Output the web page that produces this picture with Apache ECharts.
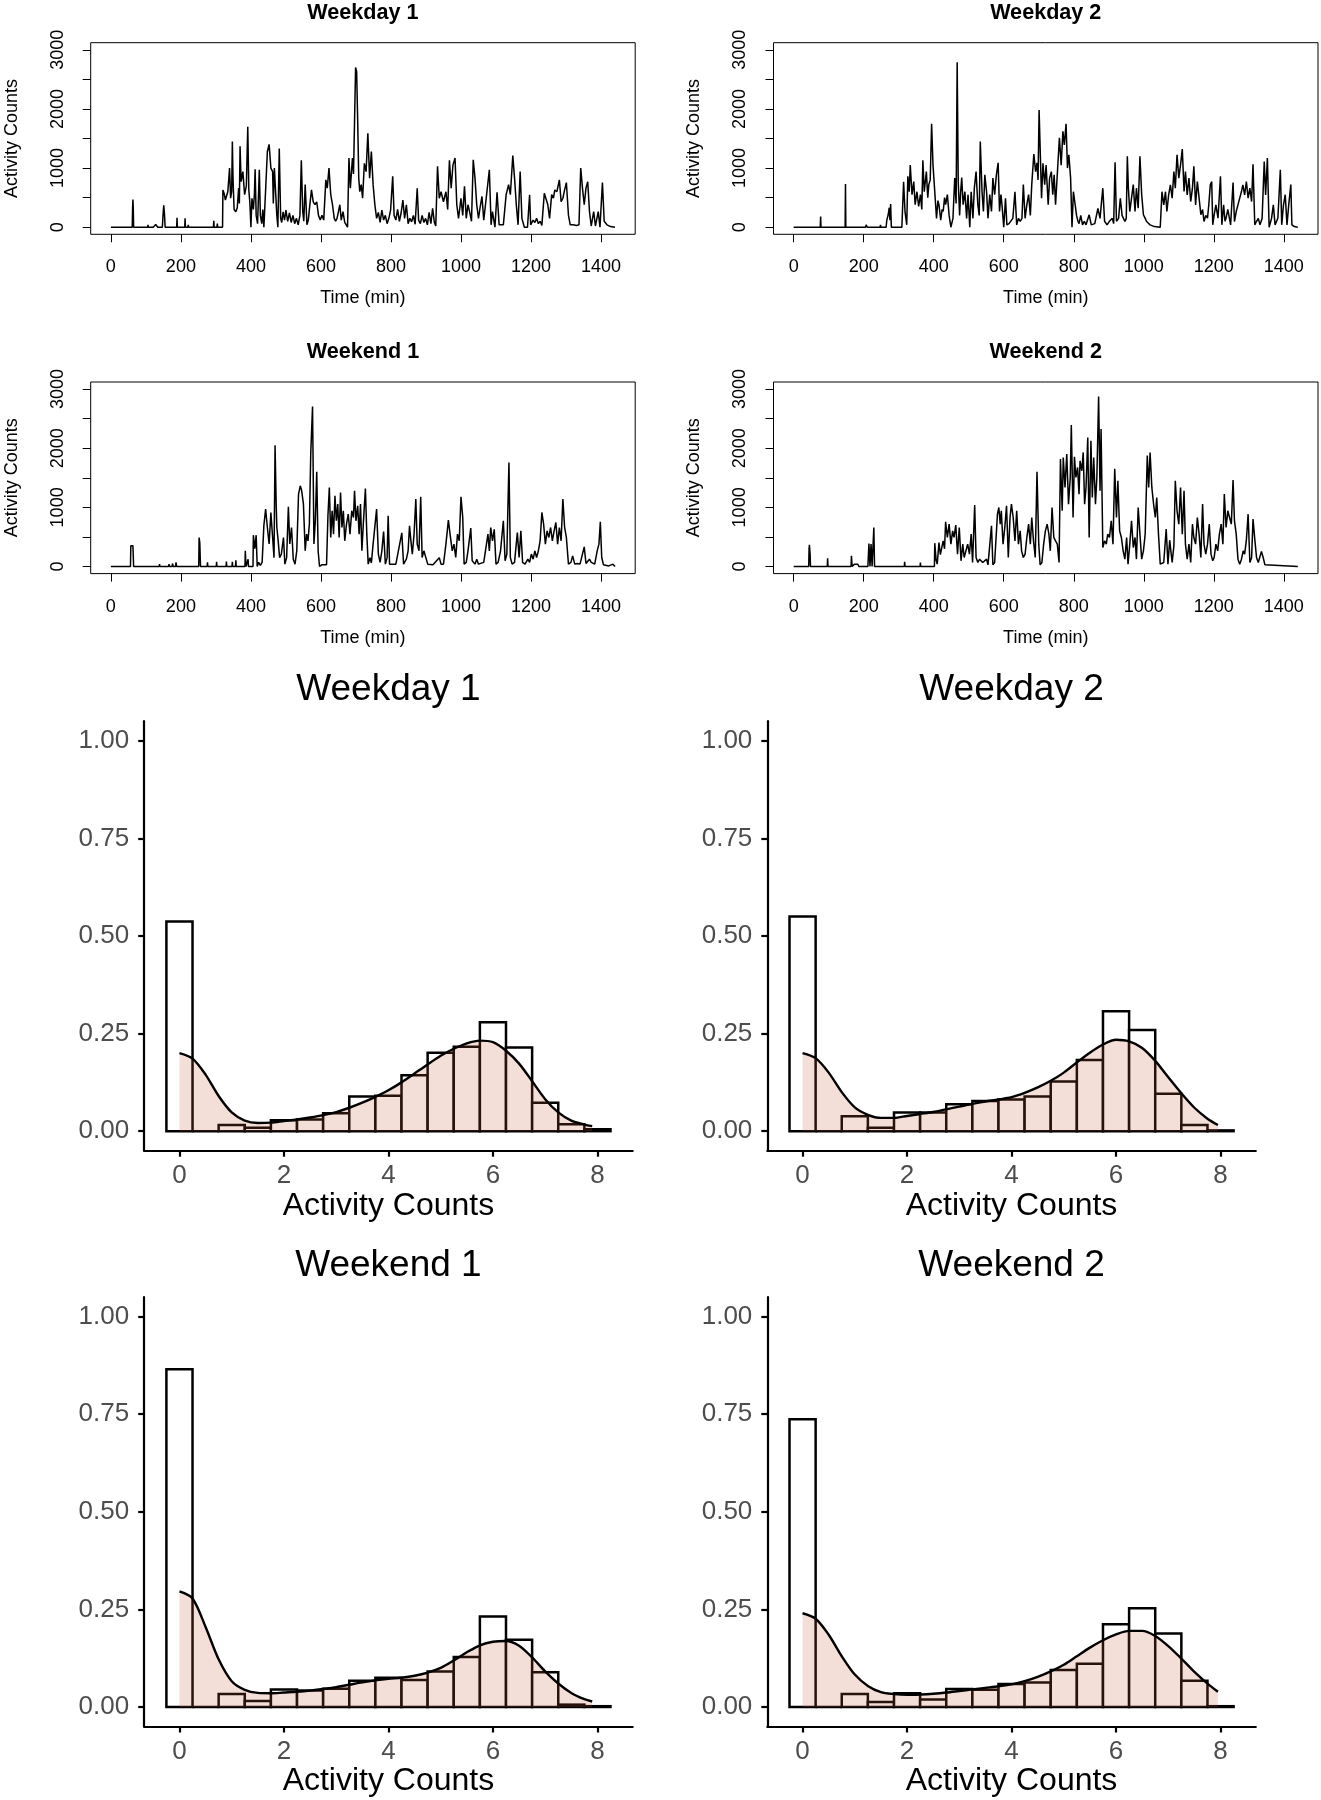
<!DOCTYPE html>
<html>
<head>
<meta charset="utf-8">
<script src="https://cdn.jsdelivr.net/npm/echarts@6/dist/echarts.min.js"></script>
<style>
  html, body { margin: 0; padding: 0; background: #fff; }
  #chart { width: 1321px; height: 1800px; }
</style>
</head>
<body>
<div id="chart"></div>
<script>
// ---- minute-level activity counts, [minute, count]
var weekday1 = [[0,0],[61,0],[62,300],[63,470],[64,320],[65,0],[105,0],[106,40],[107,0],[121,0],[124,30],[128,45],[132,20],[134,0],[147,0],[149,200],[151,370],[153,240],[155,0],[188,0],[189,160],[190,0],[211,0],[212,150],[213,0],[220,0],[221,40],[222,0],[235,0],[236,20],[237,0],[293,0],[294,110],[295,0],[303,0],[304,60],[305,0],[319,0],
  [320,630],[324,560],[327,460],[331,540],[334,600],[337,830],[339,1000],[342,490],[345,600],[347,1450],[349,800],[352,300],[357,260],[361,330],[365,660],[367,400],[369,1370],[372,770],[377,940],[382,550],[387,700],[391,1700],[394,630],[397,420],[400,0],[403,490],[407,300],[410,560],[412,980],[415,200],[419,60],[424,970],[427,200],[431,60],[434,300],[437,0],[442,630],[447,1280],[452,1400],[457,1000],[462,940],[464,400],[467,1000],[470,660],[474,200],[477,0],[481,1330],[485,150],[488,80],[492,260],[496,120],[500,290],[505,100],[510,240],[515,80],[520,200],[525,60],[530,150],[535,40],[540,200],[544,1130],[548,265],[551,100],[555,720],[560,40],[564,120],[568,360],[573,630],[578,430],[583,380],[588,430],[593,200],[598,120],[603,200],[608,120],[614,800],[618,660],[623,1000],[628,550],[633,380],[638,150],[642,100],[646,150],[650,265],[654,380],[658,120],[663,265],[668,80],[676,0],[680,1170],[684,660],[690,1170],[693,900],[696,1790],[699,2700],[702,2630],[705,1790],[708,830],[711,600],[715,720],[719,490],[724,1080],[729,940],[734,1590],[739,830],[744,1280],[749,720],[754,380],[759,150],[764,250],[769,80],[774,290],[779,120],[784,200],[789,60],[794,150],[799,290],[805,860],[809,200],[814,120],[819,300],[824,100],[829,240],[834,460],[839,150],[844,380],[849,60],[854,150],[859,90],[864,200],[869,50],[875,660],[879,120],[884,60],[889,200],[894,80],[899,150],[904,40],[909,250],[914,60],[919,320],[924,80],[928,20],
  [933,1030],[938,490],[943,600],[950,430],[957,600],[962,300],[967,1130],[972,660],[977,1050],[983,1170],[988,380],[993,150],[1000,490],[1005,200],[1010,690],[1015,150],[1020,380],[1025,250],[1030,100],[1035,1140],[1040,830],[1045,380],[1050,150],[1055,350],[1060,520],[1065,120],[1070,380],[1075,380],[1081,970],[1086,40],[1090,265],[1097,0],[1103,590],[1109,40],[1121,40],[1129,550],[1136,720],[1141,550],[1148,1210],[1153,830],[1158,380],[1163,40],[1169,940],[1174,150],[1181,0],[1190,0],[1196,550],[1199,40],[1206,120],[1211,80],[1216,150],[1221,60],[1226,100],[1231,30],[1238,575],[1243,600],[1248,380],[1253,150],[1259,550],[1264,490],[1268,630],[1274,600],[1281,800],[1286,430],[1291,490],[1296,630],[1301,755],[1307,200],[1312,40],[1320,40],[1330,30],[1337,40],[1342,1000],[1347,660],[1352,380],[1357,660],[1362,770],[1367,265],[1372,20],[1379,265],[1384,20],[1392,265],[1397,0],[1404,755],[1409,100],[1417,40],[1427,10],[1440,0]];

var weekday2 = [[0,0],[76,0],[77,180],[78,0],[86,0],[87,30],[88,0],[147,0],[148,730],[149,0],[172,0],[174,30],[176,0],[185,0],[186,30],[188,0],[205,0],[207,40],[210,0],[247,0],[248,40],[249,0],[264,0],[266,120],[270,210],[273,330],[275,120],[277,390],[279,0],[309,0],
  [314,770],[318,265],[323,40],[326,860],[330,600],[333,1050],[338,550],[343,770],[347,380],[352,600],[357,350],[362,550],[366,300],[369,1130],[373,600],[379,940],[383,500],[386,720],[390,800],[394,1750],[398,1050],[403,600],[408,150],[412,450],[415,380],[420,120],[424,300],[427,265],[431,500],[434,380],[439,550],[444,200],[449,0],[455,150],[460,830],[464,400],[467,2790],[470,770],[474,200],[477,600],[480,840],[484,380],[489,600],[494,150],[498,550],[503,0],[507,600],[512,150],[516,660],[521,940],[526,380],[530,200],[533,1450],[538,600],[542,265],[546,885],[551,600],[555,150],[560,550],[565,265],[569,830],[574,550],[579,885],[584,1090],[588,265],[592,550],[595,380],[600,0],[605,490],[609,40],[615,60],[620,40],[626,150],[632,600],[637,40],[642,150],[647,100],[652,150],[656,720],[661,150],[666,380],[671,550],[676,200],[680,720],[686,1235],[691,940],[695,1090],[698,800],[701,1980],[704,1340],[708,490],[712,1080],[717,720],[721,1050],[727,380],[731,830],[736,940],[740,550],[744,885],[748,380],[754,1000],[759,1510],[764,1050],[769,1620],[773,1390],[778,1750],[782,1000],[786,1225],[791,830],[795,0],[799,600],[804,380],[808,200],[812,100],[815,60],[820,200],[825,40],[830,100],[835,40],[844,210],[850,40],[860,60],[869,320],[875,150],[883,660],[888,100],[895,40],[902,100],[910,150],[914,60],[918,1100],[922,100],[928,150],[933,490],[938,200],[946,96],[950,150],[953,1200],[956,660],[960,265],[965,491],[970,720],[975,265],[979,660],[984,321],[989,1200],[994,547],[999,210],[1004,150],[1008,96],[1018,40],[1030,10],[1047,0],
  [1052,600],[1057,378],[1062,600],[1066,265],[1071,547],[1076,716],[1081,491],[1086,942],[1090,660],[1095,1224],[1100,829],[1105,1055],[1110,1320],[1115,603],[1119,942],[1124,547],[1129,829],[1134,434],[1139,660],[1143,1030],[1148,378],[1153,773],[1158,491],[1163,210],[1168,300],[1172,96],[1177,200],[1182,152],[1186,400],[1190,716],[1194,770],[1197,40],[1201,210],[1206,378],[1212,152],[1219,860],[1223,40],[1228,378],[1232,100],[1235,152],[1240,300],[1248,40],[1255,755],[1259,96],[1264,265],[1269,378],[1274,491],[1279,603],[1283,716],[1288,547],[1293,773],[1298,491],[1303,660],[1308,434],[1312,1065],[1317,40],[1322,100],[1327,150],[1332,40],[1338,152],[1344,1110],[1348,547],[1353,1170],[1358,0],[1365,152],[1370,378],[1375,40],[1383,152],[1390,970],[1394,40],[1399,378],[1404,550],[1409,40],[1414,378],[1420,720],[1423,40],[1430,10],[1440,0]];

var weekend1 = [[0,0],[56,0],[57,350],[60,330],[63,350],[65,0],[138,0],[139,40],[140,0],[165,0],[166,40],[168,0],[175,0],[176,50],[178,0],[185,0],[186,70],[188,0],[215,0],[216,20],[217,0],[251,0],[252,490],[254,400],[256,0],[275,0],[276,70],[277,0],[301,0],[302,80],[303,0],[329,0],[330,85],[331,0],[346,0],[347,80],[348,0],[356,0],[357,107],[358,0],[383,0],[384,265],[386,0],[391,0],[392,124],[393,0],[406,0],
  [407,530],[411,300],[415,530],[418,0],[422,70],[427,20],[432,70],[437,690],[442,970],[447,660],[452,380],[457,914],[462,490],[466,150],[469,2050],[472,1100],[474,660],[477,490],[482,150],[487,210],[493,490],[497,40],[502,150],[507,1010],[511,380],[516,660],[521,124],[526,40],[531,265],[536,1224],[541,1365],[545,1280],[550,1055],[555,265],[559,547],[563,434],[567,716],[571,1930],[576,2707],[580,380],[584,773],[588,1600],[592,265],[596,0],[603,30],[616,30],[620,857],[624,1337],[628,491],[632,942],[636,547],[640,1196],[644,773],[648,1055],[652,491],[656,1250],[660,660],[664,942],[668,434],[673,716],[678,885],[683,547],[688,942],[693,829],[696,1280],[700,773],[705,1026],[709,547],[713,1055],[717,265],[721,716],[727,1320],[731,547],[735,40],[740,150],[744,60],[749,378],[754,378],[759,970],[764,210],[769,70],[774,265],[779,590],[784,40],[789,150],[792,857],[796,40],[814,40],[831,570],[836,40],[844,124],[849,265],[853,690],[857,434],[861,210],[866,547],[871,1140],[875,378],[880,265],[885,1180],[889,152],[894,265],[899,265],[905,40],[920,28],[938,150],[943,40],[950,40],[957,378],[964,785],[970,491],[975,265],[980,378],[985,152],[990,547],[995,434],[1000,1180],[1005,830],[1009,40],[1015,70],[1020,265],[1028,650],[1032,96],[1040,40],[1045,124],[1050,40],[1065,70],[1077,547],[1081,265],[1085,660],[1090,434],[1095,630],[1100,40],[1106,70],[1113,265],[1121,773],[1126,96],[1131,210],[1137,1760],[1141,152],[1146,40],[1153,70],[1161,575],[1166,152],[1171,603],[1176,70],[1183,40],[1191,124],[1196,70],[1201,210],[1206,124],[1211,265],[1216,152],[1221,265],[1226,434],[1231,914],[1236,716],[1241,378],[1246,603],[1251,491],[1256,660],[1261,434],[1266,603],[1271,745],[1276,378],[1281,660],[1286,434],[1291,1140],[1296,660],[1301,491],[1307,40],[1314,70],[1319,180],[1325,40],[1332,50],[1340,40],[1352,333],[1357,50],[1367,124],[1372,70],[1382,40],[1389,265],[1394,378],[1398,755],[1402,152],[1407,28],[1422,10],[1434,40],[1440,0]];

var weekend2 = [[0,0],[43,0],[44,300],[45,367],[47,200],[48,0],[96,0],[97,141],[98,0],[164,0],[165,180],[167,0],[174,40],[178,68],[183,40],[186,0],[212,0],[215,390],[218,0],[221,378],[224,0],[227,0],[229,660],[231,0],[293,0],[294,28],[295,0],[316,0],[317,79],[318,0],[336,0],[338,28],[340,0],[361,0],[362,68],[363,0],[402,0],
  [403,395],[407,100],[410,40],[415,406],[419,200],[422,209],[427,434],[431,300],[434,756],[439,491],[444,716],[449,378],[454,603],[458,491],[463,699],[468,209],[473,660],[478,96],[483,378],[487,152],[492,124],[497,378],[502,209],[507,547],[511,68],[517,1038],[521,152],[526,68],[531,124],[536,152],[540,68],[545,96],[551,124],[555,28],[560,50],[565,688],[569,28],[574,68],[579,68],[582,885],[586,998],[590,716],[593,942],[598,378],[603,660],[608,1026],[613,152],[618,829],[622,1055],[627,829],[632,434],[637,942],[642,378],[647,603],[651,265],[656,152],[661,209],[666,491],[671,716],[676,378],[680,829],[685,434],[690,152],[695,1602],[700,378],[704,28],[709,68],[714,378],[719,603],[724,716],[729,547],[733,265],[738,998],[743,491],[748,434],[753,378],[758,68],[762,1816],[767,942],[770,1844],[775,1337],[780,1901],[785,1055],[790,1506],[793,2391],[798,829],[802,1855],[806,1506],[811,1675],[815,1224],[818,1788],[823,1619],[827,1929],[831,1055],[835,1337],[840,2183],[844,491],[849,2126],[853,1167],[857,1844],[862,1055],[866,1506],[871,2876],[875,1280],[878,2324],[883,321],[888,434],[893,378],[897,547],[902,491],[907,773],[912,378],[917,1653],[922,829],[926,1449],[931,603],[936,491],[941,265],[946,124],[951,491],[955,40],[960,378],[965,773],[970,321],[975,491],[979,124],[984,998],[989,547],[994,124],[999,265],[1004,547],[1010,1878],[1014,1337],[1018,1929],[1023,1337],[1028,1055],[1033,829],[1037,1167],[1042,547],[1047,40],[1057,68],[1064,632],[1069,40],[1074,445],[1081,68],[1086,350],[1090,1449],[1095,942],[1100,716],[1105,1337],[1110,547],[1115,1280],[1119,378],[1124,124],[1129,378],[1134,68],[1139,716],[1143,491],[1148,378],[1153,829],[1158,547],[1163,152],[1168,1055],[1172,378],[1177,209],[1182,378],[1187,716],[1192,209],[1197,96],[1201,152],[1206,378],[1211,265],[1216,547],[1221,716],[1226,378],[1230,1224],[1235,660],[1240,942],[1245,829],[1250,716],[1255,1461],[1259,773],[1264,547],[1269,124],[1274,40],[1279,124],[1284,265],[1288,209],[1293,445],[1298,885],[1303,68],[1308,152],[1312,801],[1317,462],[1322,152],[1327,68],[1332,96],[1336,254],[1341,152],[1346,28],[1351,0],[1440,0]];

var timeTicks = [0, 200, 400, 600, 800, 1000, 1200, 1400];
var countTicks = [0, 500, 1000, 1500, 2000, 2500, 3000];
var countLabels = [0, 1000, 2000, 3000];

// ---- histogram of log activity counts (density scale), bins of width 0.5
var binWidth = 0.5;
var binCenters = [0, 0.5, 1, 1.5, 2, 2.5, 3, 3.5, 4, 4.5, 5, 5.5, 6, 6.5, 7, 7.5, 8];
var histWeekday1 = [0.537, 0, 0.016, 0.009, 0.028, 0.030, 0.046, 0.089, 0.091, 0.143, 0.201, 0.216, 0.279, 0.214, 0.073, 0.018, 0.005];
var histWeekday2 = [0.550, 0, 0.038, 0.009, 0.048, 0.048, 0.069, 0.077, 0.081, 0.089, 0.127, 0.182, 0.307, 0.259, 0.096, 0.016, 0.002];
var histWeekend1 = [0.865, 0, 0.033, 0.015, 0.045, 0.042, 0.047, 0.067, 0.075, 0.069, 0.091, 0.128, 0.232, 0.172, 0.089, 0.006, 0.002];
var histWeekend2 = [0.737, 0, 0.033, 0.013, 0.035, 0.019, 0.046, 0.044, 0.059, 0.063, 0.095, 0.111, 0.212, 0.253, 0.188, 0.067, 0.002];

// kernel density curves
var densX = [0, 0.25, 0.5, 0.75, 1, 1.25, 1.5, 1.75, 2, 2.25, 2.5, 2.75, 3, 3.25, 3.5, 3.75, 4, 4.25, 4.5, 4.75, 5, 5.25, 5.5, 5.75, 6, 6.25, 6.5, 6.75, 7, 7.25, 7.5, 7.75];
var densEnd = [7.9, 7.95, 7.9, 7.95];
var densWeekday1 = [0.200,0.186,0.145,0.090,0.048,0.027,0.021,0.022,0.026,0.030,0.035,0.041,0.049,0.060,0.073,0.088,0.105,0.125,0.148,0.171,0.193,0.211,0.225,0.232,0.228,0.206,0.173,0.128,0.082,0.048,0.027,0.017,0.013];
var densWeekday2 = [0.200,0.187,0.150,0.100,0.061,0.042,0.034,0.034,0.039,0.044,0.049,0.056,0.063,0.070,0.076,0.081,0.087,0.098,0.112,0.129,0.150,0.176,0.201,0.222,0.234,0.230,0.213,0.180,0.138,0.097,0.060,0.032,0.016];
var densWeekend1 = [0.296,0.278,0.205,0.122,0.066,0.044,0.036,0.035,0.037,0.039,0.042,0.046,0.051,0.057,0.063,0.068,0.072,0.075,0.080,0.088,0.100,0.119,0.140,0.158,0.167,0.169,0.157,0.127,0.091,0.060,0.036,0.020,0.014];
var densWeekend2 = [0.240,0.226,0.185,0.130,0.083,0.054,0.038,0.033,0.031,0.032,0.034,0.037,0.041,0.045,0.049,0.053,0.058,0.066,0.077,0.091,0.108,0.130,0.152,0.171,0.186,0.195,0.195,0.182,0.156,0.124,0.090,0.060,0.039];

var histXTicks = [0, 2, 4, 6, 8];
var histYTicks = [0, 0.25, 0.5, 0.75, 1];

var panelNames = ['Weekday 1', 'Weekday 2', 'Weekend 1', 'Weekend 2'];

var font = '"Liberation Sans", Arial, sans-serif';
var pink = 'rgba(200, 90, 60, 0.2)';

var tsSets = [weekday1, weekday2, weekend1, weekend2];
var histSets = [histWeekday1, histWeekday2, histWeekend1, histWeekend2];
var densSets = [densWeekday1, densWeekday2, densWeekend1, densWeekend2];

// panel boxes (plot region in px)
var tsBox = [
  { left: 90.7, top: 42.7 },
  { left: 773.5, top: 42.7 },
  { left: 90.7, top: 382 },
  { left: 773.5, top: 382 }
];
var tsW = 544.5, tsH = 191.6;
var hBox = [
  { left: 144.2, top: 721.2 },
  { left: 767.3, top: 721.2 },
  { left: 144.2, top: 1297 },
  { left: 767.3, top: 1297 }
];
var hW = 488.5, hH = 429.5;

function plain(v) { return String(v); }

var grids = [], xAxes = [], yAxes = [], series = [], texts = [];

// base-R style time series panels
tsSets.forEach(function (d, i) {
  var b = tsBox[i];
  grids.push({ left: b.left, top: b.top, width: tsW, height: tsH, show: true, borderColor: '#000', borderWidth: 1, backgroundColor: 'transparent' });
  xAxes.push({
    gridIndex: i, type: 'value', min: -57.6, max: 1497.6,
    name: 'Time (min)', nameLocation: 'middle', nameGap: 55,
    nameTextStyle: { fontFamily: font, fontSize: 18, color: '#000' },
    axisLine: { show: false, onZero: false },
    splitLine: { show: false },
    axisTick: { show: true, length: 8, customValues: timeTicks, lineStyle: { color: '#000', width: 1 } },
    axisLabel: { customValues: timeTicks, margin: 24, fontFamily: font, fontSize: 18, color: '#000', formatter: plain }
  });
  yAxes.push({
    gridIndex: i, type: 'value', min: -120, max: 3120,
    name: 'Activity Counts', nameLocation: 'middle', nameGap: 70,
    nameTextStyle: { fontFamily: font, fontSize: 18, color: '#000' },
    axisLine: { show: false, onZero: false },
    splitLine: { show: false },
    axisTick: { show: true, length: 8, customValues: countTicks, lineStyle: { color: '#000', width: 1 } },
    axisLabel: { customValues: countLabels, rotate: 90, margin: 24, fontFamily: font, fontSize: 18, color: '#000', formatter: plain }
  });
  series.push({
    type: 'line', xAxisIndex: i, yAxisIndex: i, data: d,
    symbol: 'none', lineStyle: { color: '#000', width: 1.5 }, silent: true
  });
  texts.push({
    type: 'text', x: b.left + tsW / 2, y: b.top - 29.5,
    style: { text: panelNames[i], font: 'bold 21.6px ' + font, fill: '#000', align: 'center', verticalAlign: 'middle', textAlign: 'center', textVerticalAlign: 'middle' }
  });
});

// ggplot style histogram + density panels
histSets.forEach(function (h, k) {
  var i = k + 4;
  var b = hBox[k];
  grids.push({ left: b.left, top: b.top, width: hW, height: hH, show: false });
  var axisStroke = { color: '#000', width: 2.2 };
  xAxes.push({
    gridIndex: i, type: 'value', min: -0.675, max: 8.675,
    name: 'Activity Counts', nameLocation: 'middle', nameGap: 39,
    nameTextStyle: { fontFamily: font, fontSize: 32, color: '#000' },
    axisLine: { show: true, onZero: false, lineStyle: axisStroke },
    splitLine: { show: false },
    axisTick: { show: true, length: 6, customValues: histXTicks, lineStyle: axisStroke },
    axisLabel: { customValues: histXTicks, margin: 12, fontFamily: font, fontSize: 26, color: '#4D4D4D' }
  });
  yAxes.push({
    gridIndex: i, type: 'value', min: -0.05, max: 1.05,
    axisLine: { show: true, onZero: false, lineStyle: axisStroke },
    splitLine: { show: false },
    axisTick: { show: true, length: 6, customValues: histYTicks, lineStyle: axisStroke },
    axisLabel: {
      customValues: histYTicks, margin: 15, fontFamily: font, fontSize: 26, color: '#4D4D4D',
      formatter: function (v) { return Number(v).toFixed(2); }
    }
  });
  series.push({
    type: 'custom', xAxisIndex: i, yAxisIndex: i, z: 2, silent: true,
    data: binCenters.map(function (c, n) { return [c, h[n]]; }),
    renderItem: function (params, api) {
      var c = api.value(0), v = api.value(1);
      var p0 = api.coord([c - binWidth / 2, v]);
      var p1 = api.coord([c + binWidth / 2, 0]);
      return {
        type: 'rect',
        shape: { x: p0[0], y: p0[1], width: p1[0] - p0[0], height: p1[1] - p0[1] },
        style: { fill: '#fff', stroke: '#000', lineWidth: 2.5 }
      };
    }
  });
  var dx = densX.concat([densEnd[k]]);
  series.push({
    type: 'line', xAxisIndex: i, yAxisIndex: i, z: 3, silent: true,
    data: dx.map(function (x, n) { return [x, densSets[k][n]]; }),
    symbol: 'none', smooth: 0.3,
    lineStyle: { color: '#000', width: 2.4 },
    areaStyle: { color: pink, opacity: 1 }
  });
  texts.push({
    type: 'text', x: b.left + hW / 2, y: b.top - 31,
    style: { text: panelNames[k], font: '37px ' + font, fill: '#000', align: 'center', verticalAlign: 'middle', textAlign: 'center', textVerticalAlign: 'middle' }
  });
});

var chart = echarts.init(document.getElementById('chart'), null, { renderer: 'canvas' });
chart.setOption({
  animation: false,
  backgroundColor: '#fff',
  grid: grids,
  xAxis: xAxes,
  yAxis: yAxes,
  series: series,
  graphic: { elements: texts }
});
</script>
</body>
</html>
